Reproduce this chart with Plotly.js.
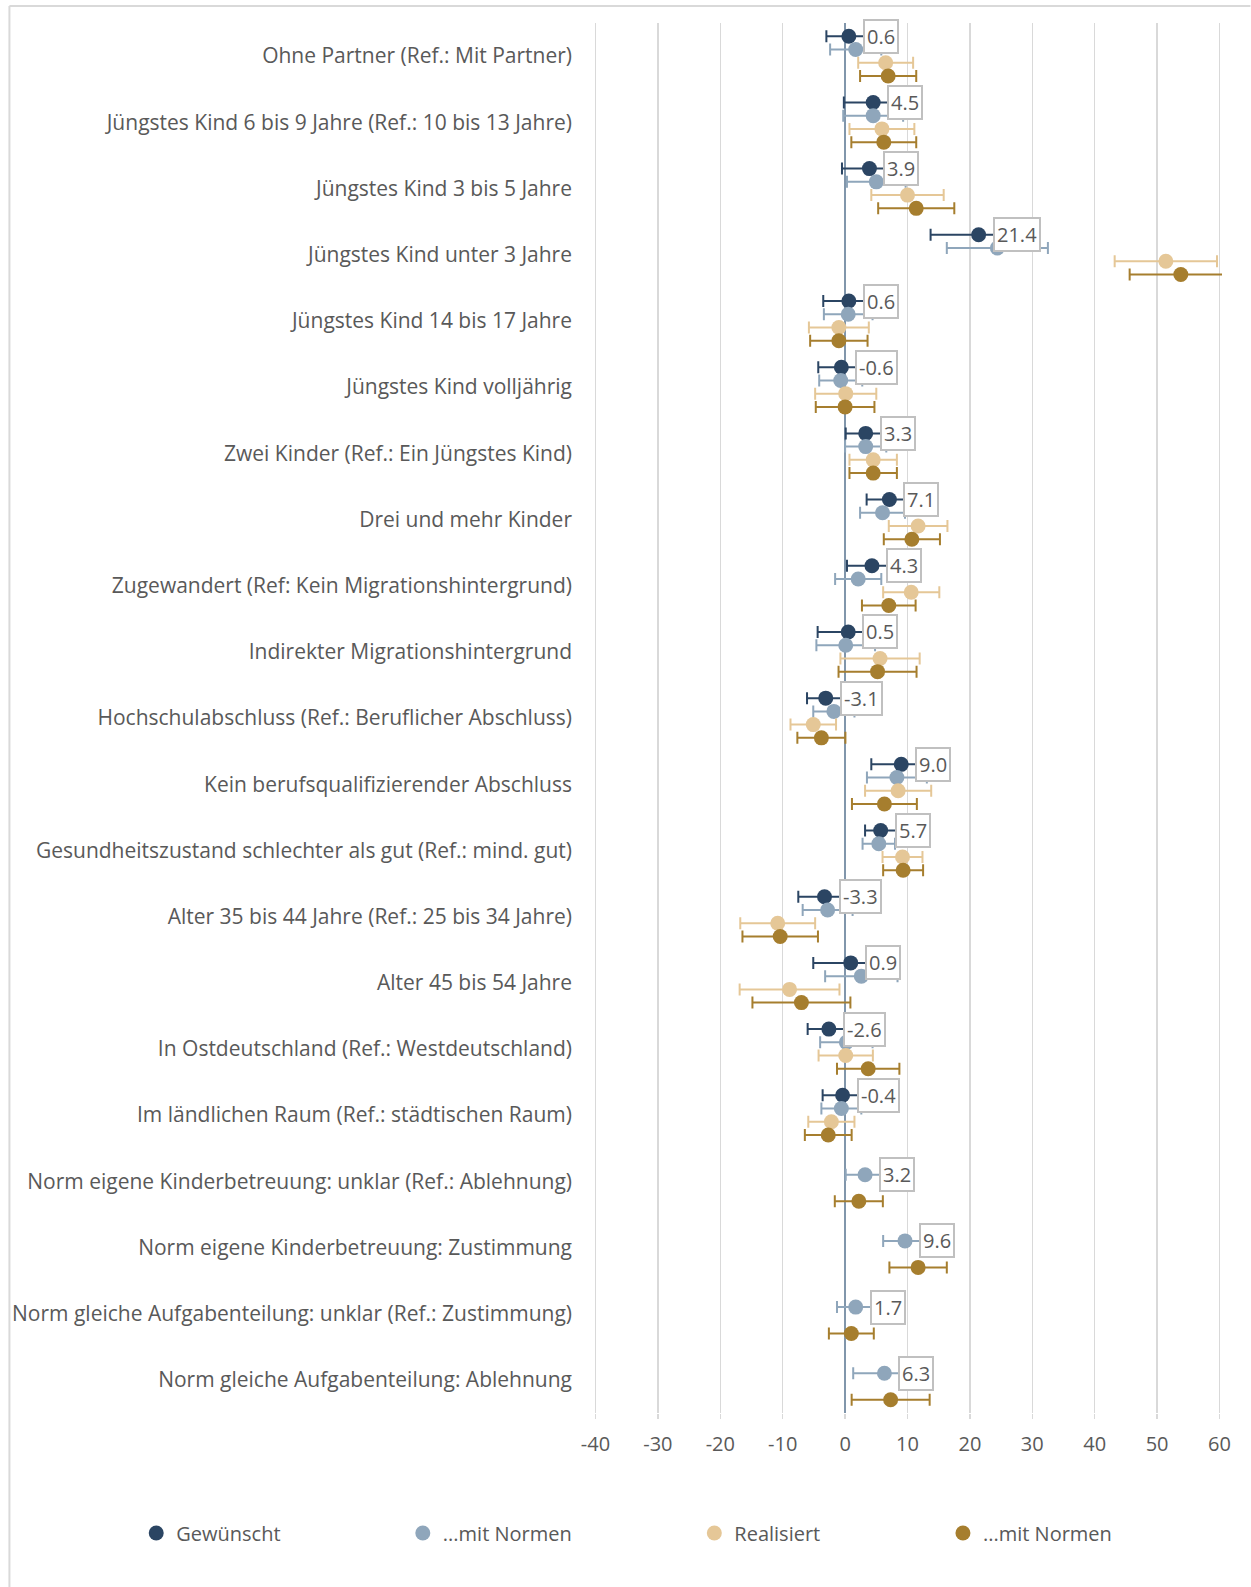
<!DOCTYPE html>
<html>
<head>
<meta charset="utf-8">
<script src="https://cdn.plot.ly/plotly-3.0.1.min.js"></script>
<style>
html,body{margin:0;padding:0;background:#fff;}
#chart{width:1251px;height:1587px;}
</style>
</head>
<body>
<div id="chart"></div>
<script>
const categories = [
  "Ohne Partner (Ref.: Mit Partner)",
  "Jüngstes Kind 6 bis 9 Jahre (Ref.: 10 bis 13 Jahre)",
  "Jüngstes Kind 3 bis 5 Jahre",
  "Jüngstes Kind unter 3 Jahre",
  "Jüngstes Kind 14 bis 17 Jahre",
  "Jüngstes Kind volljährig",
  "Zwei Kinder (Ref.: Ein Jüngstes Kind)",
  "Drei und mehr Kinder",
  "Zugewandert (Ref: Kein Migrationshintergrund)",
  "Indirekter Migrationshintergrund",
  "Hochschulabschluss (Ref.: Beruflicher Abschluss)",
  "Kein berufsqualifizierender Abschluss",
  "Gesundheitszustand schlechter als gut (Ref.: mind. gut)",
  "Alter 35 bis 44 Jahre (Ref.: 25 bis 34 Jahre)",
  "Alter 45 bis 54 Jahre",
  "In Ostdeutschland (Ref.: Westdeutschland)",
  "Im ländlichen Raum (Ref.: städtischen Raum)",
  "Norm eigene Kinderbetreuung: unklar (Ref.: Ablehnung)",
  "Norm eigene Kinderbetreuung: Zustimmung",
  "Norm gleiche Aufgabenteilung: unklar (Ref.: Zustimmung)",
  "Norm gleiche Aufgabenteilung: Ablehnung"
];

const seriesNames = ["Gewünscht", "...mit Normen", "Realisiert", "...mit Normen"];

const gewuenscht    = [0.6, 4.5, 3.9, 21.4, 0.6, -0.6, 3.3, 7.1, 4.3, 0.5, -3.1, 9.0, 5.7, -3.3, 0.9, -2.6, -0.4, null, null, null, null];
const gewuenschtErr = [3.6, 4.7, 4.4, 7.7, 4.1, 3.7, 3.2, 3.65, 4.0, 4.9, 3.0, 4.8, 2.5, 4.2, 6.0, 3.4, 3.2, null, null, null, null];

const gewNormen     = [1.7, 4.5, 5.0, 24.4, 0.5, -0.7, 3.3, 6.0, 2.1, 0.1, -1.8, 8.3, 5.4, -2.8, 2.6, 0.2, -0.6, 3.2, 9.6, 1.7, 6.3];
const gewNormenErr  = [4.1, 4.8, 4.7, 8.1, 3.9, 3.45, 3.3, 3.6, 3.7, 4.7, 3.3, 4.8, 2.6, 4.0, 5.8, 4.2, 3.2, 3.1, 3.5, 3.0, 5.0];

const realisiert    = [6.5, 5.9, 10.0, 51.4, -1.0, 0.1, 4.5, 11.7, 10.6, 5.6, -5.1, 8.5, 9.2, -10.8, -8.9, 0.1, -2.2, null, null, null, null];
const realisiertErr = [4.4, 5.2, 5.8, 8.2, 4.8, 4.9, 3.8, 4.7, 4.5, 6.35, 3.65, 5.3, 3.2, 6.0, 8.0, 4.35, 3.7, null, null, null, null];

const realNormen    = [6.9, 6.2, 11.4, 53.8, -1.0, 0.0, 4.5, 10.7, 7.0, 5.2, -3.8, 6.3, 9.3, -10.4, -7.0, 3.7, -2.7, 2.2, 11.7, 1.0, 7.3];
const realNormenErr = [4.5, 5.2, 6.1, 8.2, 4.6, 4.7, 3.8, 4.5, 4.3, 6.25, 3.85, 5.2, 3.2, 6.05, 7.85, 5.0, 3.75, 3.85, 4.6, 3.6, 6.25];

const xTickVals = [-40, -30, -20, -10, 0, 10, 20, 30, 40, 50, 60];

const colors = ["#2b4563", "#8fa6bb", "#e5c797", "#a67e2e"];
const offsets = [-0.3, -0.1, 0.1, 0.3];
const values = [gewuenscht, gewNormen, realisiert, realNormen];
const errs = [gewuenschtErr, gewNormenErr, realisiertErr, realNormenErr];

const FONT = "'Open Sans', 'Noto Sans', sans-serif";
const TXT = "#595959";
const idx = categories.map((c, i) => i);

const traces = values.map((vals, s) => ({
  type: "scatter",
  mode: "markers",
  name: seriesNames[s],
  x: vals,
  y: idx.map(i => i + offsets[s]),
  legend: s === 0 ? "legend" : "legend" + (s + 1),
  marker: {color: colors[s], size: 15},
  error_x: {type: "data", array: errs[s], visible: true, color: colors[s], thickness: 2, width: 6},
  hoverinfo: "x+name",
  cliponaxis: true
}));

// Labels on the first available series of each row
const annotations = [];
idx.forEach(i => {
  let s = gewuenscht[i] !== null ? 0 : 1;
  const v = values[s][i];
  annotations.push({
    x: v, y: i + offsets[s], xref: "x", yref: "y",
    text: v.toFixed(1), showarrow: false, xanchor: "left", yanchor: "middle",
    xshift: 14, bgcolor: "#ffffff", bordercolor: "#c0c0c0", borderwidth: 2, borderpad: 2,
    font: {family: FONT, size: 20, color: TXT}
  });
});

const W = 1251, H = 1587;
const xMin = -40, xMax = 60, pad = 0.4;
const pxPerUnit = 625 / (xMax - xMin);
const plotL = 595 - pad * pxPerUnit, plotR = 1220 + pad * pxPerUnit, plotT = 23, plotB = 1413;
const pw = plotR - plotL, ph = plotB - plotT;
const px2x = p => (p - plotL) / pw;
const px2y = p => (plotB - p) / ph;

const legendMarkers = [155, 422, 714, 963];
const legendY = 1533;
const legendDefs = {};
legendMarkers.forEach((m, k) => {
  const key = k === 0 ? "legend" : "legend" + (k + 1);
  legendDefs[key] = {
    x: px2x(m - 20), xanchor: "left", y: px2y(legendY), yanchor: "middle",
    orientation: "h", bgcolor: "rgba(0,0,0,0)", borderwidth: 0,
    font: {family: FONT, size: 20, color: TXT}
  };
});

const layout = Object.assign({
  width: W, height: H,
  margin: {l: plotL, r: W - plotR, t: plotT, b: H - plotB, pad: 0},
  paper_bgcolor: "#ffffff", plot_bgcolor: "#ffffff",
  showlegend: true,
  font: {family: FONT, size: 20, color: TXT},
  xaxis: {
    range: [xMin - pad, xMax + pad], tickvals: xTickVals, ticktext: xTickVals.map(String),
    showgrid: true, gridcolor: "#d9d9d9", gridwidth: 1.5,
    zeroline: true, zerolinecolor: "#8196ab", zerolinewidth: 2,
    showline: false, ticks: "outside", ticklen: 5, tickcolor: "#d9d9d9", tickwidth: 1.5,
    tickfont: {family: FONT, size: 20, color: TXT},
    ticklabelstandoff: 8, fixedrange: true
  },
  yaxis: {
    range: [20.5, -0.5], tickvals: idx, ticktext: categories,
    showgrid: false, zeroline: false, showline: false, ticks: "",
    tickfont: {family: FONT, size: 21, color: TXT},
    ticklabelstandoff: 20, automargin: false, fixedrange: true
  },
  annotations: annotations,
  shapes: [
    {type: "line", xref: "paper", yref: "paper", x0: px2x(8), x1: px2x(1251), y0: px2y(6), y1: px2y(6), line: {color: "#d9d9d9", width: 2}},
    {type: "line", xref: "paper", yref: "paper", x0: px2x(8), x1: px2x(8), y0: px2y(6), y1: px2y(1587), line: {color: "#d9d9d9", width: 2}}
  ]
}, legendDefs);

Plotly.newPlot("chart", traces, layout, {staticPlot: true, displayModeBar: false});
</script>
</body>
</html>
